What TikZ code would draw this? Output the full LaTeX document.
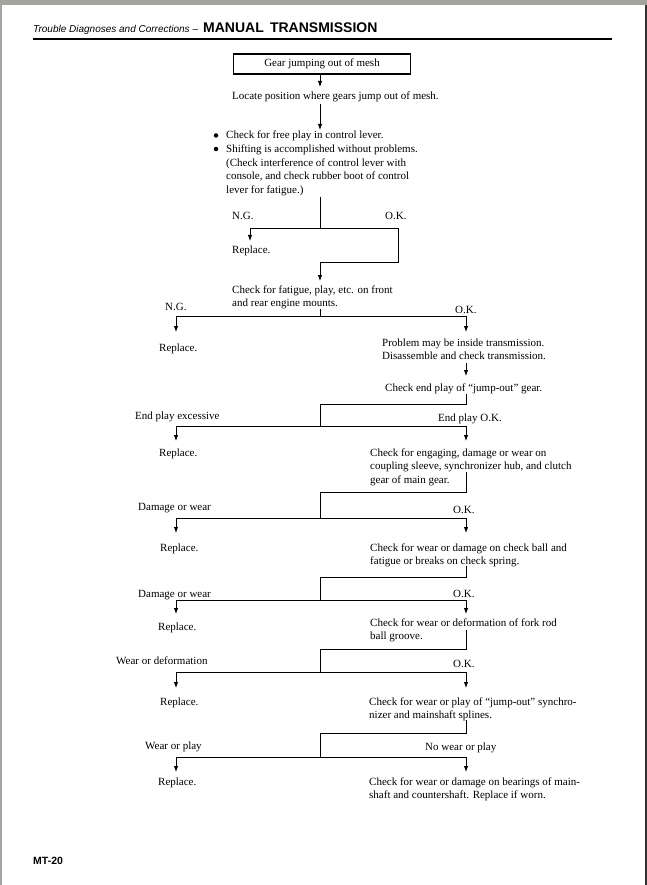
\documentclass[tikz,border=0pt]{standalone}
\usepackage{fontspec}
\setmainfont{Liberation Serif}
\newfontfamily\hdfont{Liberation Sans}
\usetikzlibrary{arrows.meta}
\newcommand\mylines[1]{\begin{tabular}[t]{@{}l@{}}#1\end{tabular}}
\definecolor{framegray}{RGB}{165,165,160}
\begin{document}
\begin{tikzpicture}[x=1pt,y=1pt,
  txt/.style={inner sep=0pt, anchor=base west, font=\fontsize{11}{13.6}\selectfont},
  conn/.style={line width=0.9pt},
  arr/.style={conn,-{Latex[length=6pt,width=4.5pt]}},
  bul/.style={circle, fill, inner sep=0pt, minimum size=4.5pt}]
\useasboundingbox (0,0) rectangle (647,-885);
\fill[white] (0,0) rectangle (647,-885);
% page frame
\fill[framegray] (0,0) rectangle (647,-5);
\fill[framegray] (0,0) rectangle (2,-885);
\fill[black!80] (645,-5) rectangle (647,-885);
% header
\node[inner sep=0pt, anchor=base west, font=\hdfont\itshape\fontsize{10}{12}\selectfont] (hd1) at (33,-33) {Trouble Diagnoses and Corrections –};
\node[inner sep=0pt, anchor=base west, font=\hdfont\bfseries\fontsize{14}{16}\selectfont] (hd2) at (203,-33) {MANUAL\, TRANSMISSION};
\coordinate (rl) at (33,-39);
\coordinate (rr) at (612,-39);
\draw[line width=2pt] (rl) -- (rr);
% start box
\node[draw, line width=1.6pt, minimum width=177pt, minimum height=20pt, inner sep=0pt, font=\fontsize{11}{13.6}\selectfont] (gear) at (322,-64) {Gear jumping out of mesh};
\node[txt] (loc) at (232,-100) {Locate position where gears jump out of mesh.};
\coordinate (a1) at (320,-87);
\draw[arr] (gear.south -| a1) -- (a1);
\coordinate (a2t) at (320,-104);
\coordinate (a2) at (320,-130);
\draw[arr] (a2t) -- (a2);
% bullets
\node[bul] (b1) at (216,-135.5) {};
\node[bul] (b2) at (216,-149) {};
\node[txt] (chk) at (226,-139) {\mylines{Check for free play in control lever.\\Shifting is accomplished without problems.\\(Check interference of control lever with\\console, and check rubber boot of control\\lever for fatigue.)}};
% first branch
\coordinate (c1) at (320,-197);
\coordinate (c2) at (320,-228);
\coordinate (c3) at (250,-228);
\coordinate (c4) at (398,-228);
\coordinate (c5) at (250,-241);
\coordinate (c6) at (398,-262);
\coordinate (c7) at (320,-262);
\coordinate (c8) at (320,-281);
\draw[conn] (c1) -- (c2);
\draw[conn] (c3) -- (c4) -- (c6) -- (c7);
\draw[arr] (c3) -- (c5);
\draw[arr] (c7) -- (c8);
\node[txt] (ng1) at (232,-220) {N.G.};
\node[txt] (ok1) at (385,-220) {O.K.};
\node[txt] (rep1) at (232,-254) {Replace.};
% engine mounts
\node[txt] (eng) at (232,-293) {\mylines{Check for fatigue, play, etc. on front\\and rear engine mounts.}};
\node[txt] (ng2) at (165,-310) {N.G.};
\node[txt] (ok2) at (455,-313) {O.K.};
\coordinate (e1) at (320,-309);
\coordinate (e2) at (320,-316);
\coordinate (e3) at (176,-316);
\coordinate (e4) at (466,-316);
\coordinate (e5) at (176,-332);
\coordinate (e6) at (466,-332);
\draw[conn] (e1) -- (e2);
\draw[conn] (e3) -- (e4);
\draw[arr] (e3) -- (e5);
\draw[arr] (e4) -- (e6);
\node[txt] (rep2) at (159,-351) {Replace.};
\node[txt] (prob) at (382,-346) {\mylines{Problem may be inside transmission.\\Disassemble and check transmission.}};
\coordinate (p1) at (466,-363);
\coordinate (p2) at (466,-376);
\draw[arr] (p1) -- (p2);
\node[txt] (endp) at (385,-391) {Check end play of “jump-out” gear.};
% repeated branches
\foreach \n/\a/\b/\c/\d in {1/394/404/426/441, 2/472/492/518/533, 3/566/577/600/614, 4/630/649/672/688, 5/720/733/757/772}{
  \coordinate (t\n) at (466,-\a);
  \coordinate (m\n) at (466,-\b);
  \coordinate (k\n) at (320,-\b);
  \coordinate (s\n) at (320,-\c);
  \coordinate (l\n) at (176,-\c);
  \coordinate (r\n) at (466,-\c);
  \coordinate (la\n) at (176,-\d);
  \coordinate (ra\n) at (466,-\d);
  \draw[conn] (t\n) -- (m\n) -- (k\n) -- (s\n);
  \draw[conn] (l\n) -- (r\n);
  \draw[arr] (l\n) -- (la\n);
  \draw[arr] (r\n) -- (ra\n);
}
\node[txt] (epx) at (135,-419) {End play excessive};
\node[txt] (epok) at (438,-421) {End play O.K.};
\node[txt] (rep3) at (159,-456) {Replace.};
\node[txt] (cs) at (370,-456) {\mylines{Check for engaging, damage or wear on\\coupling sleeve, synchronizer hub, and clutch\\gear of main gear.}};
\node[txt] (dw1) at (138,-510) {Damage or wear};
\node[txt] (ok4) at (453,-513) {O.K.};
\node[txt] (rep4) at (160,-551) {Replace.};
\node[txt] (cb) at (370,-551) {\mylines{Check for wear or damage on check ball and\\fatigue or breaks on check spring.}};
\node[txt] (dw2) at (138,-597) {Damage or wear};
\node[txt] (ok5) at (453,-597) {O.K.};
\node[txt] (rep5) at (158,-630) {Replace.};
\node[txt] (fr) at (370,-626) {\mylines{Check for wear or deformation of fork rod\\ball groove.}};
\node[txt] (wd) at (116,-664) {Wear or deformation};
\node[txt] (ok6) at (453,-667) {O.K.};
\node[txt] (rep6) at (160,-705) {Replace.};
\node[txt] (sy) at (369,-705) {\mylines{Check for wear or play of “jump-out” synchro-\\nizer and mainshaft splines.}};
\node[txt] (wp) at (145,-749) {Wear or play};
\node[txt] (nwp) at (425,-750) {No wear or play};
\node[txt] (rep7) at (158,-785) {Replace.};
\node[txt] (br) at (369,-785) {\mylines{Check for wear or damage on bearings of main-\\shaft and countershaft. Replace if worn.}};
% footer
\node[inner sep=0pt, anchor=base west, font=\hdfont\bfseries\fontsize{10.5}{12}\selectfont] (pg) at (33,-864) {MT-20};
\end{tikzpicture}
\end{document}
